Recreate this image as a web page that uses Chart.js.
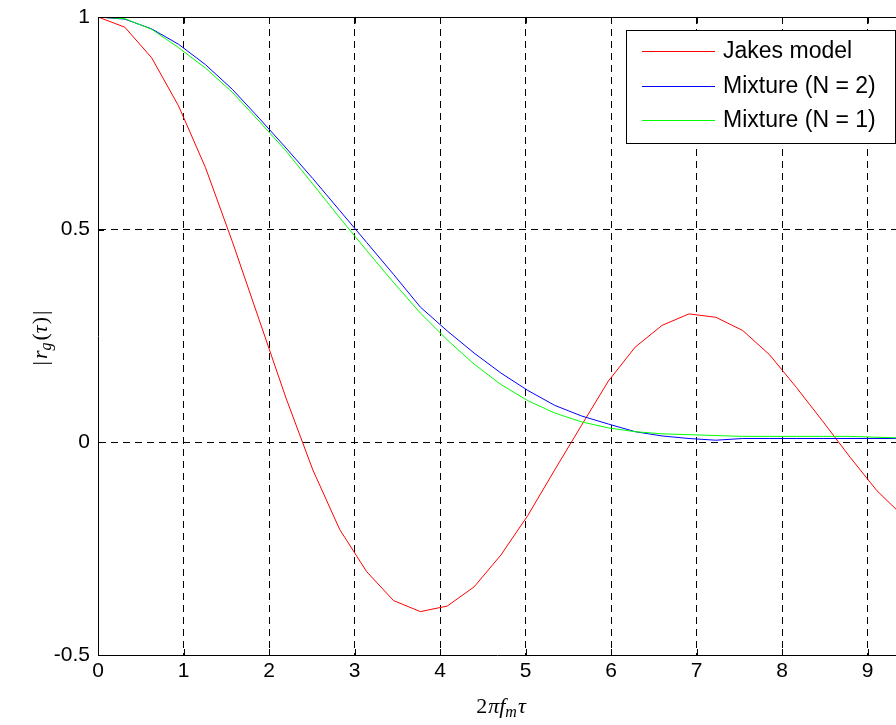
<!DOCTYPE html>
<html lang="en">
<head>
    <meta charset="UTF-8">
    <title>Jakes model vs mixture</title>
    <style>
        body { margin: 0; background: #fff; }
        #wrap { width: 896px; height: 725px; position: relative; }
    </style>
</head>
<body>
    <div id="wrap"><canvas id="acf"></canvas></div>

    <script src="https://cdn.jsdelivr.net/npm/chart.js@4.4.0/dist/chart.umd.min.js"></script>
    <script>
        // sample points (2*pi*fm*tau), step ~pi/10
        const taus = [0, 0.314, 0.628, 0.942, 1.257, 1.571, 1.885, 2.199, 2.513, 2.827,
                      3.142, 3.456, 3.770, 4.084, 4.398, 4.712, 5.027, 5.341, 5.655, 5.969,
                      6.283, 6.597, 6.912, 7.226, 7.540, 7.854, 8.168, 8.482, 8.796, 9.111, 9.425];

        const jakes = [1, 0.976, 0.904, 0.791, 0.646, 0.472, 0.288, 0.104, -0.065, -0.205,
                       -0.304, -0.372, -0.398, -0.385, -0.340, -0.265, -0.172, -0.065, 0.040, 0.144,
                       0.224, 0.275, 0.302, 0.294, 0.263, 0.206, 0.129, 0.048, -0.035, -0.114, -0.175];

        const mixN2 = [1, 0.995, 0.972, 0.936, 0.888, 0.830, 0.762, 0.692, 0.620, 0.545,
                       0.470, 0.395, 0.318, 0.262, 0.210, 0.163, 0.122, 0.087, 0.062, 0.043,
                       0.025, 0.015, 0.009, 0.005, 0.009, 0.009, 0.009, 0.009, 0.009, 0.009, 0.009];

        const mixN1 = [1, 0.996, 0.971, 0.928, 0.880, 0.823, 0.755, 0.685, 0.607, 0.528,
                       0.451, 0.376, 0.304, 0.241, 0.184, 0.136, 0.098, 0.069, 0.048, 0.034,
                       0.025, 0.020, 0.018, 0.016, 0.014, 0.014, 0.014, 0.014, 0.014, 0.012, 0.010];

        const seriesLabels = ['Jakes model', 'Mixture (N = 2)', 'Mixture (N = 1)'];
        const seriesColors = ['#ff0000', '#0000ff', '#00ff00'];

        const xTicks = [0, 1, 2, 3, 4, 5, 6, 7, 8, 9];
        const yTicks = [-0.5, 0, 0.5, 1];

        const xLimits = [0, 9.333];
        const yLimits = [-0.5, 1];

        const toPoints = ys => taus.map((t, i) => ({ x: t, y: ys[i] }));

        // frame, inward tick marks, legend box and math axis titles
        const decorPlugin = {
            id: 'decor',
            afterDatasetsDraw(chart) {
                const { ctx, chartArea: a, scales } = chart;
                ctx.save();
                ctx.strokeStyle = '#000';
                ctx.lineWidth = 1;
                ctx.setLineDash([]);
                const topY = Math.round(scales.y.getPixelForValue(yLimits[1])) + 0.5;
                ctx.beginPath();
                ctx.moveTo(a.left, topY);
                ctx.lineTo(a.right, topY);
                xTicks.forEach(v => {
                    const px = Math.round(scales.x.getPixelForValue(v)) + 0.5;
                    ctx.moveTo(px, a.bottom); ctx.lineTo(px, a.bottom - 6);
                    ctx.moveTo(px, topY); ctx.lineTo(px, topY + 6);
                });
                yTicks.forEach(v => {
                    const py = Math.round(scales.y.getPixelForValue(v)) + 0.5;
                    ctx.moveTo(a.left, py); ctx.lineTo(a.left + 6, py);
                });
                ctx.stroke();

                // legend
                const lx = 626, ly = 30, lw = 269, lh = 113;
                ctx.fillStyle = '#fff';
                ctx.fillRect(lx, ly, lw, lh);
                ctx.strokeRect(lx + 0.5, ly + 0.5, lw, lh);
                ctx.font = '23px "Liberation Sans", Arial, sans-serif';
                ctx.textBaseline = 'middle';
                const rows = [51, 86, 120];
                seriesLabels.forEach((lab, i) => {
                    ctx.strokeStyle = seriesColors[i];
                    ctx.beginPath();
                    ctx.moveTo(642, rows[i] + 0.5);
                    ctx.lineTo(715, rows[i] + 0.5);
                    ctx.stroke();
                    ctx.fillStyle = '#000';
                    ctx.fillText(lab, 723, rows[i] + 1);
                });
                ctx.restore();
            },
            afterDraw(chart) {
                const { ctx } = chart;
                const big = 'italic 22px "Liberation Serif", "DejaVu Serif", serif';
                const small = 'italic 16px "Liberation Serif", "DejaVu Serif", serif';
                const up = '22px "Liberation Serif", serif';
                const drawParts = (parts, cx, cy) => {
                    let w = 0;
                    parts.forEach(p => { ctx.font = p.f; w += ctx.measureText(p.t).width + (p.gap || 0); });
                    let x = cx - w / 2;
                    parts.forEach(p => {
                        ctx.font = p.f;
                        ctx.fillText(p.t, x, cy + (p.dy || 0));
                        x += ctx.measureText(p.t).width + (p.gap || 0);
                    });
                };
                ctx.save();
                ctx.fillStyle = '#000';
                ctx.textBaseline = 'alphabetic';
                drawParts([
                    { t: '2', f: up, gap: 1 },
                    { t: 'πf', f: big },
                    { t: 'm', f: small, dy: 4, gap: 1 },
                    { t: 'τ', f: big }
                ], 501, 713);

                ctx.translate(41, 338);
                ctx.rotate(-Math.PI / 2);
                drawParts([
                    { t: '|', f: up, gap: 2 },
                    { t: 'r', f: big },
                    { t: 'g', f: small, dy: 4, gap: 2 },
                    { t: '(', f: up },
                    { t: 'τ', f: big, gap: 1 },
                    { t: ')', f: up, gap: 2 },
                    { t: '|', f: up }
                ], 0, 6);
                ctx.restore();
            }
        };

        function createChart() {
            const ctx = document.getElementById('acf').getContext('2d');
            const tickFont = { family: '"Liberation Sans", Arial, sans-serif', size: 21 };
            // no dashed grid line on the frame edges
            const gridColor = lim => c => (c.tick && lim.includes(c.tick.value)) ? 'rgba(0,0,0,0)' : '#000';

            new Chart(ctx, {
                type: 'line',
                data: {
                    datasets: [jakes, mixN2, mixN1].map((ys, i) => ({
                        label: seriesLabels[i],
                        data: toPoints(ys),
                        borderColor: seriesColors[i],
                        backgroundColor: seriesColors[i],
                        borderWidth: 1,
                        pointRadius: 0,
                        tension: 0,
                        fill: false,
                        order: 3 - i
                    }))
                },
                options: {
                    responsive: true,
                    maintainAspectRatio: false,
                    animation: false,
                    layout: { padding: { top: 17, right: 0, left: 0, bottom: 0 } },
                    plugins: {
                        legend: { display: false },
                        tooltip: { enabled: false }
                    },
                    scales: {
                        x: {
                            type: 'linear',
                            min: xLimits[0],
                            max: xLimits[1],
                            afterBuildTicks: s => { s.ticks = xTicks.map(v => ({ value: v })); },
                            afterFit: s => { s.height = 70; s.paddingLeft = 0; s.paddingRight = 0; },
                            ticks: { color: '#000', font: tickFont, padding: 4, maxRotation: 0,
                                     callback: v => String(v) },
                            grid: { color: gridColor([xLimits[0]]), lineWidth: 1, drawTicks: false },
                            border: { color: '#000', width: 1, dash: [7, 5] }
                        },
                        y: {
                            type: 'linear',
                            min: yLimits[0],
                            max: yLimits[1],
                            afterBuildTicks: s => { s.ticks = yTicks.map(v => ({ value: v })); },
                            afterFit: s => { s.width = 98; s.paddingTop = 0; s.paddingBottom = 0; },
                            ticks: { color: '#000', font: tickFont, padding: 8,
                                     callback: v => String(v) },
                            grid: { color: gridColor(yLimits), lineWidth: 1, drawTicks: false },
                            border: { color: '#000', width: 1, dash: [7, 5] }
                        }
                    }
                },
                plugins: [decorPlugin]
            });
        }

        document.addEventListener('DOMContentLoaded', createChart);
    </script>
</body>
</html>
